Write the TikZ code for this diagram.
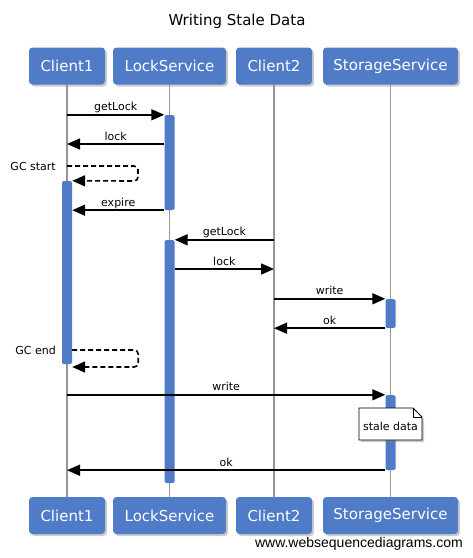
\documentclass[tikz,border=0pt]{standalone}
\usepackage{fontspec}
\setmainfont{DejaVu Sans}
\newfontfamily\creditfont{Liberation Sans}
\usetikzlibrary{arrows.meta,shadows,positioning}
\definecolor{wsdblue}{RGB}{79,123,199}
\definecolor{wsdgray}{RGB}{150,150,150}
\tikzset{> = {Triangle[length=13pt,width=11pt]}}
\tikzset{
  actor/.style={fill=wsdblue, rounded corners=3.5pt, text=white, inner sep=0pt,
    font=\fontsize{15}{18}\selectfont, minimum height=37pt,
    drop shadow={shadow xshift=2pt,shadow yshift=-2pt,opacity=.4}},
  lifeline/.style={draw=wsdgray, line width=1.5pt},
  actbar/.style={fill=wsdblue, rounded corners=1.5pt, minimum width=10pt, inner sep=0pt},
  msg/.style={->, line width=1.6pt},
  selfmsg/.style={msg, dash pattern=on 5pt off 3pt, rounded corners=4pt},
  lbl/.style={font=\fontsize{11}{13}\selectfont, anchor=base, yshift=4pt, inner sep=0pt},
  sidelbl/.style={font=\fontsize{11}{13}\selectfont, inner sep=0pt},
  notepaper/.style={fill=white, draw=black, line width=.8pt,
    drop shadow={shadow xshift=2pt,shadow yshift=-2pt,opacity=.4}},
}
\begin{document}
\begin{tikzpicture}[x=1pt,y=-1pt]
\useasboundingbox (0,0) rectangle (473,558);
\node[font=\fontsize{15}{18}\selectfont] (title) at (237,21) {Writing Stale Data};
% participants, top and bottom
\foreach \nm/\x/\w/\txt in {c1/67/76/Client1, ls/169.5/113/LockService, c2/274/76/Client2, ss/390.5/135/StorageService}{
  \node[actor, minimum width=\w pt] (\nm) at (\x,66) {\txt};
  \node[actor, minimum width=\w pt] (\nm-b) at (\x,515.5) {\txt};
  \draw[lifeline] (\nm) -- (\nm-b);
}
% activations
\node[actbar, minimum height=95pt] (la1) at (169.5,162.5) {};
\node[actbar, minimum height=243pt] (la2) at (169.5,361.5) {};
\node[actbar, minimum height=183pt] (ca) at (67,272.5) {};
\node[actbar, minimum height=29pt] (sa1) at (390.5,313.5) {};
\node[actbar, minimum height=75pt] (sa2) at (390.5,432.5) {};
\coordinate (m2) at (0,144);
\coordinate (m5) at (0,269);
\coordinate (g1) at (67,166);
\coordinate (g2) at (67,350);
% messages
\draw[msg] (c1 |- la1.north) -- node[lbl]{getLock} (la1.north west);
\draw[msg] (la1.west |- m2) -- node[lbl]{lock} (c1 |- m2);
\node[sidelbl, left=11pt of g1] (gcs) {GC start};
\draw[selfmsg] (g1) -- ++(71,0) -- ++(0,15) -- (ca.north east);
\draw[msg] (la1.south west) -- node[lbl]{expire} (ca.east |- la1.south);
\draw[msg] (c2 |- la2.north) -- node[lbl]{getLock} (la2.north east);
\draw[msg] (la2.east |- m5) -- node[lbl]{lock} (c2 |- m5);
\draw[msg] (c2 |- sa1.north) -- node[lbl]{write} (sa1.north west);
\draw[msg] (sa1.south west) -- node[lbl]{ok} (c2 |- sa1.south);
\node[sidelbl, left=11pt of g2] (gce) {GC end};
\draw[selfmsg] (ca.east |- g2) -- ++(66,0) -- ++(0,17) -- ++(-66,0);
\draw[msg] (c1 |- sa2.north) -- node[lbl]{write} (sa2.north west);
\draw[msg] (sa2.south west) -- node[lbl]{ok} (c1 |- sa2.south);
% note
\coordinate (ntc) at (359,408);
\path[notepaper] (ntc) -- ++(54,0) -- ++(9,9) -- ++(0,23) -- ++(-63,0) -- cycle;
\draw[line width=.8pt] (ntc) ++(54,0) -- ++(0,9) -- ++(9,0);
\node[sidelbl] (nt) at (390.5,426) {stale data};
\node[font=\creditfont\fontsize{14}{16}\selectfont, anchor=east, inner sep=0pt] (credit) at (463,543.5) {www.websequencediagrams.com};
\end{tikzpicture}
\end{document}
